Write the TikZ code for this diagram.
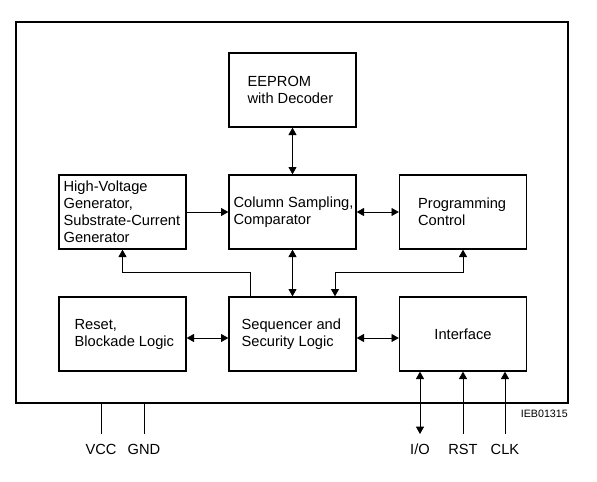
\documentclass[tikz,border=0pt]{standalone}
\usepackage{fontspec}
\setmainfont{Liberation Sans}
\usetikzlibrary{positioning, calc, arrows.meta}

\tikzset{
  blk/.style={draw, line width=1pt, minimum width=95.25pt, minimum height=55.5pt, inner sep=0pt},
  chip/.style={draw, line width=1.7pt, minimum width=414pt, minimum height=285.75pt, inner sep=0pt},
  lbl/.style={font=\fontsize{11}{12.75}\selectfont, align=left, inner sep=0pt, anchor=west},
  link/.style={line width=0.6pt, >={Triangle[length=5.5pt, width=6pt]}},
  pinlbl/.style={font=\fontsize{11}{12}\selectfont, inner sep=0pt}
}

\begin{document}
\begin{tikzpicture}[x=0.75pt, y=-0.75pt]
  \useasboundingbox (0,0) rectangle (597,482);

  % package outline
  \node[chip] (ic) at (292,212.5) {};

  % function blocks
  \node[blk] (eeprom) at (292.5,90) {};
  \node[blk] (hv) at (122.5,212) {};
  \node[blk] (column) at (292.5,212) {};
  \node[blk] (prog) at (463,212) {};
  \node[blk] (reset) at (122.5,334) {};
  \node[blk] (seq) at (292.5,334) {};
  \node[blk] (iface) at (463,334) {};

  % block texts
  \node[lbl] at ([xshift=14.25pt]eeprom.west) {EEPROM\\with Decoder};
  \node[lbl] at ([xshift=3.75pt]hv.west) {High-Voltage\\Generator,\\Substrate-Current\\Generator};
  \node[lbl] at ([xshift=3.75pt]column.west) {Column Sampling,\\Comparator};
  \node[lbl] at ([xshift=14.25pt]prog.west) {Programming\\Control};
  \node[lbl] at ([xshift=12pt]reset.west) {Reset,\\Blockade Logic};
  \node[lbl] at ([xshift=9.75pt]seq.west) {Sequencer and\\Security Logic};
  \node[lbl, anchor=center] at (iface.center) {Interface};

  % internal connections
  \draw[link, <->] (eeprom.south) -- (column.north);
  \draw[link, ->] (hv.east) -- (column.west);
  \draw[link, <->] (column.east) -- (prog.west);
  \draw[link, <->] (column.south) -- (seq.north);
  \draw[link, <->] ([yshift=-3pt]reset.east) -- ([yshift=-3pt]seq.west);
  \draw[link, <->] ([yshift=-3pt]seq.east) -- ([yshift=-3pt]iface.west);

  \coordinate (tapl) at (250,272);
  \coordinate (tapr) at (335,272);
  \draw[link, ->] (tapl |- seq.north) -- (tapl) -| (hv.south);
  \draw[link, <->] (tapr |- seq.north) -- (tapr) -| (prog.south);

  % supply pins
  \foreach \x/\name/\txt in {101/vcc/VCC, 144/gnd/GND} {
    \coordinate (\name) at (\x,434);
    \draw[line width=0.6pt] (\name) -- (\name |- ic.south);
    \node[pinlbl] (\name lbl) at (\x,449) {\txt};
  }

  % interface pins
  \foreach \x/\name/\txt/\tip in {420/io/{I/O}/<->, 463/rst/RST/->, 505/clk/CLK/->} {
    \coordinate (\name) at (\x,434);
    \draw[link, \tip] (\name) -- (\name |- iface.south);
    \node[pinlbl] (\name lbl) at (\x,449) {\txt};
  }

  \node[font=\fontsize{8}{9}\selectfont, inner sep=0pt, anchor=east] (code) at (568,414) {IEB01315};
\end{tikzpicture}
\end{document}
